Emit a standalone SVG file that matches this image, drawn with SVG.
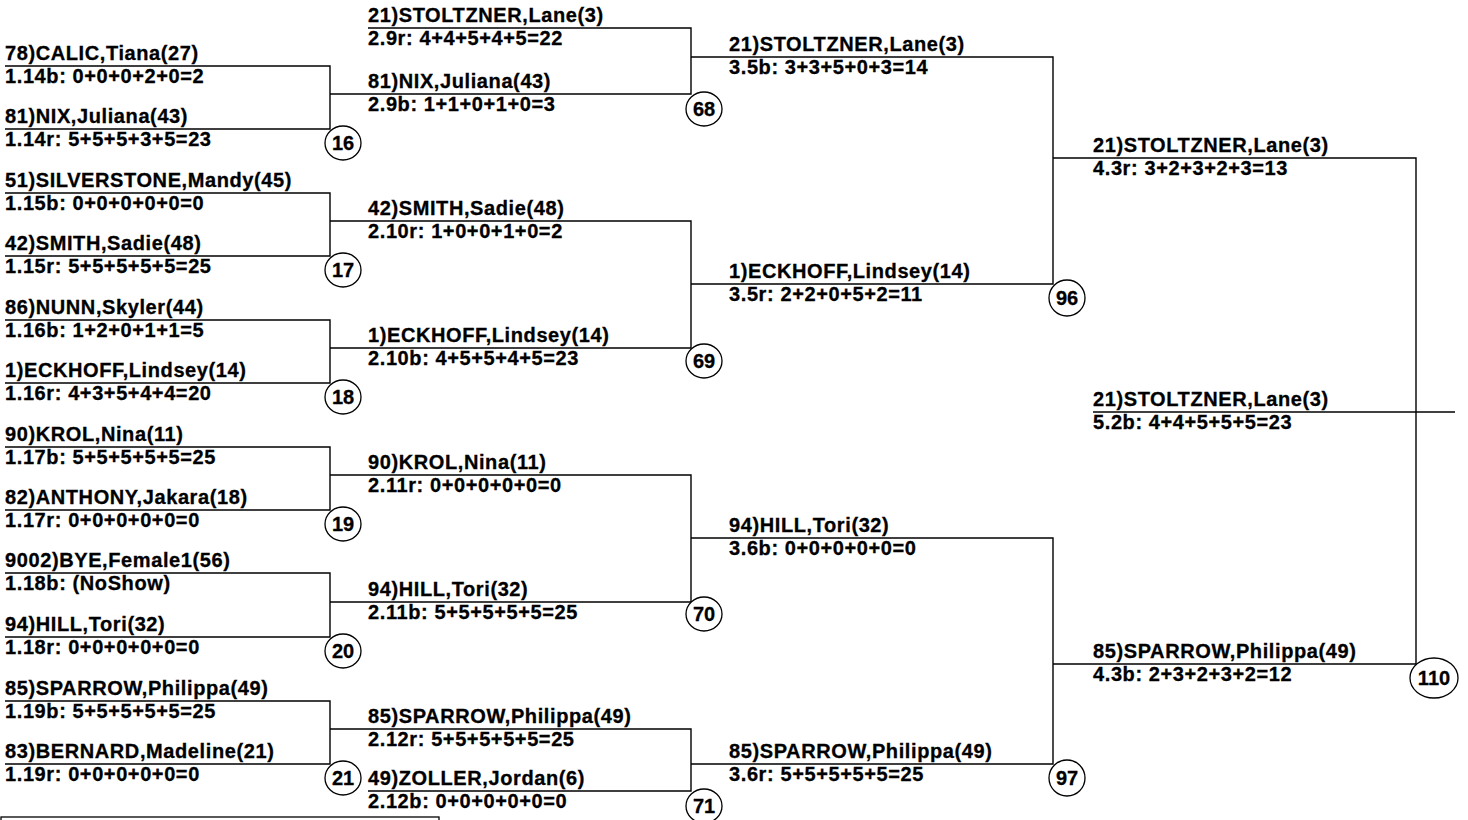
<svg xmlns="http://www.w3.org/2000/svg" width="1468" height="820" viewBox="0 0 1468 820">
<style>
text{font-family:"Liberation Sans",Arial,sans-serif;font-weight:bold;font-size:20px;letter-spacing:0.6px;fill:#000;stroke:#000;stroke-width:0.3px}
.n{text-anchor:middle;letter-spacing:0}
line,polyline{stroke:#000;stroke-width:1.4;fill:none}
ellipse{fill:#fff;stroke:#000;stroke-width:1.3}
</style>
<rect width="1468" height="820" fill="#fff"/>
<g id="connectors">
<polyline points="5,66 330,66 330,129 5,129"/>
<polyline points="5,193 330,193 330,256 5,256"/>
<polyline points="5,320 330,320 330,383 5,383"/>
<polyline points="5,447 330,447 330,510 5,510"/>
<polyline points="5,573 330,573 330,637 5,637"/>
<polyline points="5,701 330,701 330,764 5,764"/>
<polyline points="368,28 691,28 691,94 330,94"/>
<polyline points="330,221 691,221 691,348 330,348"/>
<polyline points="330,475 691,475 691,602 330,602"/>
<polyline points="330,729 691,729 691,791 368,791"/>
<polyline points="691,57 1053,57 1053,284 691,284"/>
<polyline points="691,538 1053,538 1053,764 691,764"/>
<polyline points="1053,158 1416,158 1416,664 1053,664"/>
<line x1="1093" y1="412" x2="1455" y2="412"/>
</g>
<g id="m16"><text x="5" y="60">78)CALIC,Tiana(27)</text><text x="5" y="83">1.14b: 0+0+0+2+0=2</text><text x="5" y="123">81)NIX,Juliana(43)</text><text x="5" y="146">1.14r: 5+5+5+3+5=23</text><ellipse cx="343" cy="143" rx="18" ry="17"/><text class="n" x="343" y="150">16</text></g>
<g id="m17"><text x="5" y="187">51)SILVERSTONE,Mandy(45)</text><text x="5" y="210">1.15b: 0+0+0+0+0=0</text><text x="5" y="250">42)SMITH,Sadie(48)</text><text x="5" y="273">1.15r: 5+5+5+5+5=25</text><ellipse cx="343" cy="270" rx="18" ry="17"/><text class="n" x="343" y="277">17</text></g>
<g id="m18"><text x="5" y="314">86)NUNN,Skyler(44)</text><text x="5" y="337">1.16b: 1+2+0+1+1=5</text><text x="5" y="377">1)ECKHOFF,Lindsey(14)</text><text x="5" y="400">1.16r: 4+3+5+4+4=20</text><ellipse cx="343" cy="397" rx="18" ry="17"/><text class="n" x="343" y="404">18</text></g>
<g id="m19"><text x="5" y="441">90)KROL,Nina(11)</text><text x="5" y="464">1.17b: 5+5+5+5+5=25</text><text x="5" y="504">82)ANTHONY,Jakara(18)</text><text x="5" y="527">1.17r: 0+0+0+0+0=0</text><ellipse cx="343" cy="524" rx="18" ry="17"/><text class="n" x="343" y="531">19</text></g>
<g id="m20"><text x="5" y="567">9002)BYE,Female1(56)</text><text x="5" y="590">1.18b: (NoShow)</text><text x="5" y="631">94)HILL,Tori(32)</text><text x="5" y="654">1.18r: 0+0+0+0+0=0</text><ellipse cx="343" cy="651" rx="18" ry="17"/><text class="n" x="343" y="658">20</text></g>
<g id="m21"><text x="5" y="695">85)SPARROW,Philippa(49)</text><text x="5" y="718">1.19b: 5+5+5+5+5=25</text><text x="5" y="758">83)BERNARD,Madeline(21)</text><text x="5" y="781">1.19r: 0+0+0+0+0=0</text><ellipse cx="343" cy="778" rx="18" ry="17"/><text class="n" x="343" y="785">21</text></g>
<g id="m68"><text x="368" y="22">21)STOLTZNER,Lane(3)</text><text x="368" y="45">2.9r: 4+4+5+4+5=22</text><text x="368" y="88">81)NIX,Juliana(43)</text><text x="368" y="111">2.9b: 1+1+0+1+0=3</text><ellipse cx="704" cy="109" rx="18" ry="17"/><text class="n" x="704" y="116">68</text></g>
<g id="m69"><text x="368" y="215">42)SMITH,Sadie(48)</text><text x="368" y="238">2.10r: 1+0+0+1+0=2</text><text x="368" y="342">1)ECKHOFF,Lindsey(14)</text><text x="368" y="365">2.10b: 4+5+5+4+5=23</text><ellipse cx="704" cy="361" rx="18" ry="17"/><text class="n" x="704" y="368">69</text></g>
<g id="m70"><text x="368" y="469">90)KROL,Nina(11)</text><text x="368" y="492">2.11r: 0+0+0+0+0=0</text><text x="368" y="596">94)HILL,Tori(32)</text><text x="368" y="619">2.11b: 5+5+5+5+5=25</text><ellipse cx="704" cy="614" rx="18" ry="17"/><text class="n" x="704" y="621">70</text></g>
<g id="m71"><text x="368" y="723">85)SPARROW,Philippa(49)</text><text x="368" y="746">2.12r: 5+5+5+5+5=25</text><text x="368" y="785">49)ZOLLER,Jordan(6)</text><text x="368" y="808">2.12b: 0+0+0+0+0=0</text><ellipse cx="704" cy="806" rx="18" ry="17"/><text class="n" x="704" y="813">71</text></g>
<g id="m96"><text x="729" y="51">21)STOLTZNER,Lane(3)</text><text x="729" y="74">3.5b: 3+3+5+0+3=14</text><text x="729" y="278">1)ECKHOFF,Lindsey(14)</text><text x="729" y="301">3.5r: 2+2+0+5+2=11</text><ellipse cx="1067" cy="298" rx="18" ry="18"/><text class="n" x="1067" y="305">96</text></g>
<g id="m97"><text x="729" y="532">94)HILL,Tori(32)</text><text x="729" y="555">3.6b: 0+0+0+0+0=0</text><text x="729" y="758">85)SPARROW,Philippa(49)</text><text x="729" y="781">3.6r: 5+5+5+5+5=25</text><ellipse cx="1067" cy="778" rx="18" ry="18"/><text class="n" x="1067" y="785">97</text></g>
<g id="m110"><text x="1093" y="152">21)STOLTZNER,Lane(3)</text><text x="1093" y="175">4.3r: 3+2+3+2+3=13</text><text x="1093" y="658">85)SPARROW,Philippa(49)</text><text x="1093" y="681">4.3b: 2+3+2+3+2=12</text><ellipse cx="1434" cy="678" rx="24" ry="20"/><text class="n" x="1434" y="685">110</text></g>
<g id="champion"><text x="1093" y="406">21)STOLTZNER,Lane(3)</text><text x="1093" y="429">5.2b: 4+4+5+5+5=23</text></g>
<g id="legend"><rect x="1" y="817" width="438" height="12" fill="none" stroke="#000" stroke-width="1.3"/></g>
</svg>
